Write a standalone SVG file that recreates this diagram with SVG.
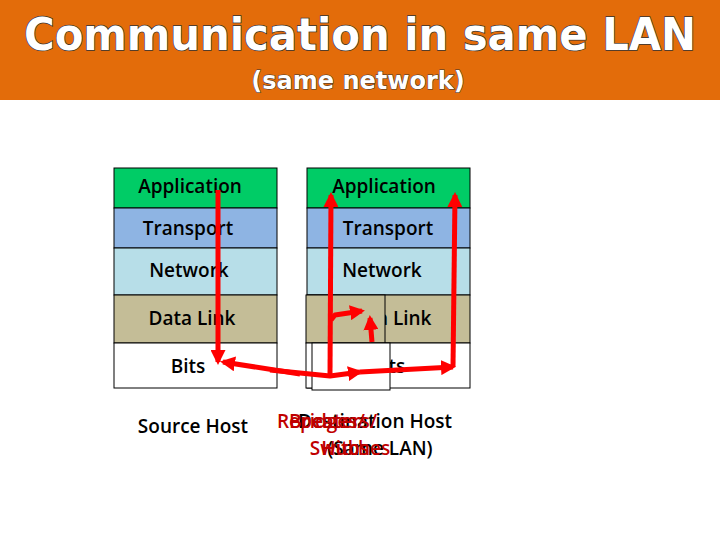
<svg xmlns="http://www.w3.org/2000/svg" width="720" height="540" viewBox="0 0 720 540">
<style>
.t{font-family:"DejaVu Sans","Liberation Sans",sans-serif;font-weight:bold;fill:#fff;stroke:#333;stroke-width:1.5;paint-order:stroke;text-anchor:middle}
.l{font-family:"Open Sans","Liberation Sans",sans-serif;font-size:19px;font-weight:600;fill:#000;text-anchor:middle}
.r{font-family:"Open Sans","Liberation Sans",sans-serif;font-size:19px;font-weight:600;fill:#c00000;text-anchor:middle}
.b{stroke:#000;stroke-width:1}
.a{fill:none;stroke:#f00;stroke-width:5;stroke-linejoin:round;marker-end:url(#ah)}
</style>
<defs><marker id="ah" viewBox="0 0 10 10" refX="8" refY="5" markerWidth="3" markerHeight="3" orient="auto"><path d="M0,0L10,5L0,10z" fill="#f00"/></marker></defs>
<rect width="720" height="540" fill="#fff"/>
<rect width="720" height="100" fill="#e36c0a"/>
<text class="t" x="360" y="50" font-size="44" textLength="672" lengthAdjust="spacingAndGlyphs">Communication in same LAN</text>
<text class="t" x="358" y="89" font-size="24" style="stroke-width:1">(same network)</text>
<g id="src">
<rect class="b" x="114" y="168" width="163" height="40" fill="#00cc66"/>
<rect class="b" x="114" y="208" width="163" height="40" fill="#8eb4e3"/>
<rect class="b" x="114" y="248" width="163" height="47" fill="#b7dee8"/>
<rect class="b" x="114" y="295" width="163" height="48" fill="#c4bd97"/>
<rect class="b" x="114" y="343" width="163" height="45" fill="#fff"/>
<text class="l" x="190" y="193">Application</text>
<text class="l" x="188" y="235">Transport</text>
<text class="l" x="189" y="277">Network</text>
<text class="l" x="192" y="325">Data Link</text>
<text class="l" x="188" y="373">Bits</text>
<text class="l" x="193" y="433">Source Host</text>
</g>
<g id="dst">
<rect class="b" x="307" y="168" width="163" height="40" fill="#00cc66"/>
<rect class="b" x="307" y="208" width="163" height="40" fill="#8eb4e3"/>
<rect class="b" x="307" y="248" width="163" height="47" fill="#b7dee8"/>
<rect class="b" x="307" y="295" width="163" height="48" fill="#c4bd97"/>
<rect class="b" x="307" y="343" width="163" height="45" fill="#fff"/>
<text class="l" x="384" y="193">Application</text>
<text class="l" x="388" y="235">Transport</text>
<text class="l" x="382" y="277">Network</text>
<text class="l" x="388" y="325">Data Link</text>
<text class="l" x="388" y="373">Bits</text>
</g>
<g id="dev">
<rect class="b" x="306" y="295" width="79" height="48" fill="#c4bd97"/>
<rect class="b" x="306" y="343" width="79" height="45" fill="#fff"/>
<rect class="b" x="312" y="343" width="78" height="47" fill="#fff"/>
</g>
<g id="lbl">
<text class="l" x="375" y="428">Destination Host</text>
<text class="l" x="380" y="455">(Same LAN)</text>
<text class="r" x="327" y="428">Repeaters/</text>
<text class="r" x="327" y="428">Bridges/</text>
<text class="r" x="350" y="455">Switches</text>
<text class="r" x="345" y="455">Hubs</text>
</g>
<g id="connectors">
<polyline class="a" points="218,190 218,362"/>
<polyline class="a" points="300,374 223,362"/>
<polyline class="a" points="270,370 330,376 360,372"/>
<polyline class="a" points="360,372 453,367"/>
<polyline class="a" points="453,367 455,195"/>
<polyline class="a" points="330,376 331,195"/>
<polyline class="a" points="331,320 335,315 362,311"/>
<polyline class="a" points="372,342 370,318"/>
</g>
</svg>
